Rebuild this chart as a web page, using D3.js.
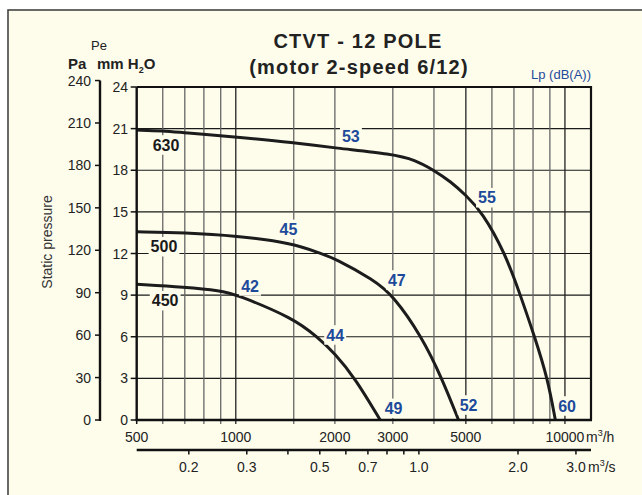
<!DOCTYPE html>
<html><head><meta charset="utf-8">
<script src="https://cdn.jsdelivr.net/npm/d3@7"></script>
<style>
html,body{margin:0;padding:0;background:#fff;}
svg{display:block;}
text{font-family:"Liberation Sans",Arial,sans-serif;}
</style></head>
<body>
<script>
// ---- data ----
const flow630 = [500, 600, 700, 800, 1000, 1500, 2000, 3000, 3500, 4000, 4500, 5000, 5600, 6590, 7320, 8090, 8860, 9350];
const p630    = [20.9, 20.85, 20.7, 20.6, 20.4, 20.0, 19.6, 19.17, 18.75, 18.0, 17.18, 16.2, 15.0, 12.0, 9.0, 6.0, 3.0, 0];
const flow500 = [500, 700, 1000, 1500, 1805, 2000, 2620, 3000, 3676, 4229, 4750];
const p500    = [13.57, 13.5, 13.28, 12.73, 12.0, 11.65, 10.1, 9.0, 6.0, 3.0, 0];
const flow450 = [500, 700, 900, 1000, 1500, 1764, 2000, 2305, 2746];
const p450    = [9.78, 9.57, 9.32, 9.06, 7.33, 6.0, 4.8, 3.0, 0];
const curveNames = ["630", "500", "450"];
const gridFlows = [600, 700, 800, 900, 1000, 1500, 2000, 3000, 4000, 5000, 6000, 7000, 8000, 9000, 10000];
const darkGridFlows = [1000, 5000, 10000];
const flowTickLabels = [500, 1000, 2000, 3000, 5000, 10000];
const mmTicks = [0, 3, 6, 9, 12, 15, 18, 21, 24];
const paTicks = [0, 30, 60, 90, 120, 150, 180, 210, 240];
const m3sTicks = [0.2, 0.3, 0.4, 0.5, 0.6, 0.7, 0.8, 0.9, 1.0, 2.0, 3.0];
const m3sLabels = ["0.2", "0.3", "0.5", "0.7", "1.0", "2.0", "3.0"];
// noise level labels: [text, flow, mm H2O]
const lpLabels = [
  ["53", 2237, 20.42], ["55", 5796, 16.02], ["60", 10150, 1.01],
  ["45", 1445, 13.74], ["47", 3086, 10.09], ["52", 5095, 1.08],
  ["42", 1105, 9.66], ["44", 2004, 6.13], ["49", 3015, 0.84]
];
// curve name labels: [text, flow, mm H2O]
const nameLabels = [["630", 614, 19.82], ["500", 605, 12.49], ["450", 610, 8.6]];

const W = 642, H = 495;
const BG = "#fefdec";
const BLUE = "#1d4a9a";
const svg = d3.select("body").append("svg").attr("width", W).attr("height", H);

// outer frame
svg.append("rect").attr("x", 8).attr("y", 10).attr("width", W).attr("height", H).attr("fill", BG)
  .attr("stroke", "#444").attr("stroke-width", 1.6);

const x = d3.scaleLog().domain([500, 12000]).range([136.7, 591]);
const y = d3.scaleLinear().domain([0, 24]).range([420, 87]);
const yPa = d3.scaleLinear().domain([0, 240]).range([420, 420 - 240 * (333 / 24) / 9.81]);

const g = svg.append("g");

// horizontal grid
g.selectAll("line.hg").data(mmTicks.filter(v => v > 0 && v < 24)).join("line")
  .attr("x1", x(500)).attr("x2", x(12000)).attr("y1", d => y(d)).attr("y2", d => y(d))
  .attr("stroke", "#1a1a1a").attr("stroke-width", 1.2);
// vertical grid (extends into bottom ticks)
g.selectAll("line.vg").data(gridFlows).join("line")
  .attr("x1", d => x(d)).attr("x2", d => x(d)).attr("y1", y(24)).attr("y2", y(0) + 4)
  .attr("stroke", d => darkGridFlows.includes(d) ? "#222" : "#666").attr("stroke-width", 1.3);
g.append("line").attr("x1", x(500)).attr("x2", x(500)).attr("y1", y(0)).attr("y2", y(0) + 4).attr("stroke", "#111").attr("stroke-width", 1.5);

// plot frame: top & right
g.append("path").attr("d", `M${x(500)},${y(24)}H${x(12000)}V${y(0)}`).attr("fill", "none").attr("stroke", "#111").attr("stroke-width", 2.2);

// curves
const line = d3.line().x(d => x(d[0])).y(d => y(d[1])).curve(d3.curveBasis);
const curves = [[flow630, p630], [flow500, p500], [flow450, p450]];
curves.forEach(([f, p]) => {
  g.append("path").datum(f.map((v, i) => [v, p[i]])).attr("d", line)
    .attr("fill", "none").attr("stroke", "#1c1c1c").attr("stroke-width", 3);
});

// labels with background
function boxLabel(txt, cx, cy, color, size) {
  const t = g.append("text").attr("x", cx).attr("y", cy + size * 0.36).attr("text-anchor", "middle")
    .attr("font-weight", "bold").attr("font-size", size)
    .attr("fill", color).style("font-family", '"Liberation Sans Narrow","Arial Narrow","Liberation Sans",sans-serif').text(txt);
  const b = t.node().getBBox();
  const h = size * 0.72 + 8;
  g.insert("rect", () => t.node()).attr("x", b.x - 2).attr("y", cy - h / 2).attr("width", b.width + 4).attr("height", h).attr("fill", BG);
}
lpLabels.forEach(([t, f, p]) => boxLabel(t, x(f), y(p), BLUE, 16));
nameLabels.forEach(([t, f, p]) => boxLabel(t, x(f), y(p), "#1a1a1a", 16));

// mm axis
const ax = svg.append("g");
ax.append("line").attr("x1", x(500)).attr("x2", x(500)).attr("y1", y(24)).attr("y2", y(0) + 1).attr("stroke", "#111").attr("stroke-width", 2.4);
ax.selectAll("line.mt").data(mmTicks).join("line").attr("x1", x(500) - 6).attr("x2", x(500)).attr("y1", d => y(d)).attr("y2", d => y(d)).attr("stroke", "#111").attr("stroke-width", 1.5);
ax.selectAll("text.ml").data(mmTicks).join("text").attr("x", 128).attr("y", d => y(d)).attr("text-anchor", "end")
  .attr("dominant-baseline", "central").attr("font-size", 14).attr("fill", "#222").text(d => d);
// Pa axis
const paX = 100;
ax.append("line").attr("x1", paX).attr("x2", paX).attr("y1", yPa(240)).attr("y2", yPa(0) + 1).attr("stroke", "#111").attr("stroke-width", 2.4);
ax.selectAll("line.pt").data(paTicks).join("line").attr("x1", paX - 5).attr("x2", paX).attr("y1", d => yPa(d)).attr("y2", d => yPa(d)).attr("stroke", "#111").attr("stroke-width", 1.5);
ax.selectAll("text.pl").data(paTicks).join("text").attr("x", 91).attr("y", d => yPa(d)).attr("text-anchor", "end")
  .attr("dominant-baseline", "central").attr("font-size", 14).attr("fill", "#222").text(d => d);

// x axis m3/h
ax.append("line").attr("x1", x(500) - 1).attr("x2", x(12000) + 1).attr("y1", y(0)).attr("y2", y(0)).attr("stroke", "#111").attr("stroke-width", 2.4);
ax.selectAll("text.xl").data(flowTickLabels).join("text").attr("x", d => x(d)).attr("y", 442).attr("text-anchor", "middle")
  .attr("font-size", 14).attr("fill", "#222").text(d => d);
const u1 = ax.append("text").attr("x", 586).attr("y", 442).attr("font-size", 14).attr("fill", "#222");
u1.append("tspan").text("m");
u1.append("tspan").attr("font-size", 9).attr("dy", -6).text("3");
u1.append("tspan").attr("dy", 6).text("/h");

// m3/s axis
const ys = 450;
ax.append("line").attr("x1", x(500)).attr("x2", x(12000)).attr("y1", ys).attr("y2", ys).attr("stroke", "#111").attr("stroke-width", 2.4);
ax.selectAll("line.st").data(m3sTicks).join("line").attr("x1", d => x(d * 3600)).attr("x2", d => x(d * 3600)).attr("y1", ys).attr("y2", ys + 4.5).attr("stroke", "#111").attr("stroke-width", 1.5);
ax.selectAll("text.sl").data(m3sLabels).join("text").attr("x", d => x(+d * 3600)).attr("y", 472).attr("text-anchor", "middle")
  .attr("font-size", 14).attr("fill", "#222").text(d => d);
const u2 = ax.append("text").attr("x", 588).attr("y", 472).attr("font-size", 14).attr("fill", "#222");
u2.append("tspan").text("m");
u2.append("tspan").attr("font-size", 9).attr("dy", -6).text("3");
u2.append("tspan").attr("dy", 6).text("/s");

// axis titles
svg.append("text").attr("transform", "translate(52,242) rotate(-90)").attr("text-anchor", "middle")
  .attr("font-size", 14).attr("fill", "#333").text("Static pressure");
svg.append("text").attr("x", 99).attr("y", 50).attr("text-anchor", "middle").attr("font-size", 13).attr("fill", "#222").text("Pe");
svg.append("text").attr("x", 68).attr("y", 69).attr("font-size", 15).attr("font-weight", "bold").attr("fill", "#222").text("Pa");
const mm = svg.append("text").attr("x", 97).attr("y", 69).attr("font-size", 15).attr("font-weight", "bold").attr("fill", "#222");
mm.append("tspan").text("mm H");
mm.append("tspan").attr("font-size", 9).attr("dy", 4).text("2");
mm.append("tspan").attr("dy", -4).text("O");

// title
svg.append("text").attr("x", 358).attr("y", 47.5).attr("text-anchor", "middle").attr("font-size", 20).attr("font-weight", "bold")
  .attr("letter-spacing", 1.2).attr("fill", "#222").text("CTVT - 12 POLE");
svg.append("text").attr("x", 359).attr("y", 74).attr("text-anchor", "middle").attr("font-size", 20).attr("font-weight", "bold")
  .attr("letter-spacing", 1.2).attr("fill", "#222").text("(motor 2-speed 6/12)");
svg.append("text").attr("x", 591).attr("y", 79).attr("text-anchor", "end").attr("font-size", 13).attr("fill", BLUE).text("Lp (dB(A))");
</script>
</body></html>
